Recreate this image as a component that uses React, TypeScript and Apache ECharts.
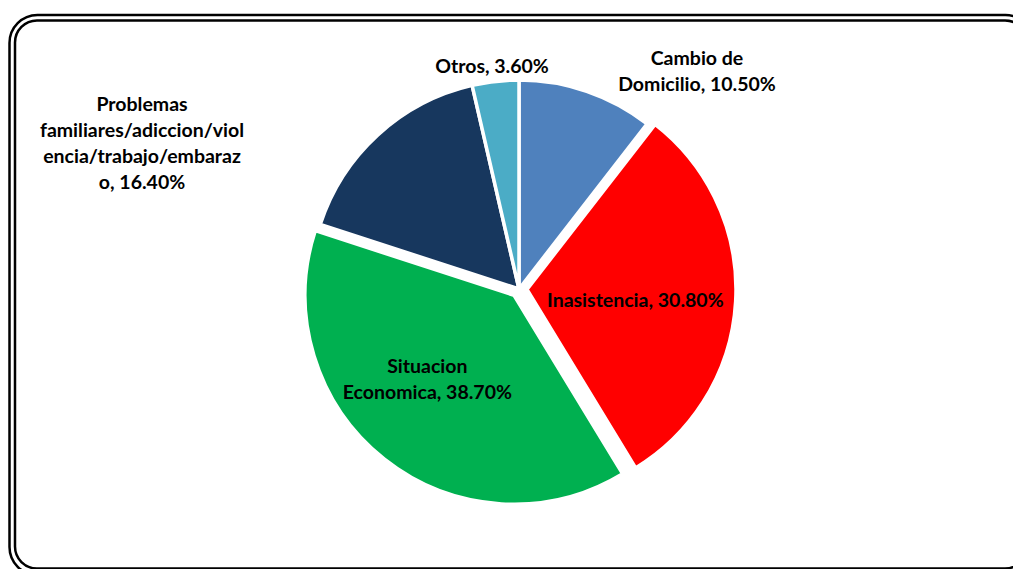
import React, { useEffect, useRef } from "react";
import * as echarts from "echarts";

const categories = [
  "Cambio de Domicilio",
  "Inasistencia",
  "Situacion Economica",
  "Problemas familiares/adiccion/violencia/trabajo/embarazo",
  "Otros",
];
const labelTexts = [
  "Cambio de\nDomicilio, 10.50%",
  "Inasistencia, 30.80%",
  "Situacion\nEconomica, 38.70%",
  "Problemas\nfamiliares/adiccion/viol\nencia/trabajo/embaraz\no, 16.40%",
  "Otros, 3.60%",
];
const values = [10.5, 30.8, 38.7, 16.4, 3.6];
const colors = ["#4F81BD", "#FF0000", "#00B050", "#17375E", "#4BACC6"];
const exploded = [false, true, true, false, false];
const insideLabel = [false, true, true, false, false];
// outside label centres; inside label nudges
const labelPos = [
  [697, 70],
  [1, 4],
  [-20, -1],
  [142, 142],
  [492, 65],
];

export default function App() {
  const ref = useRef<HTMLDivElement>(null);
  useEffect(() => {
    if (!ref.current) return;
    const chart = echarts.init(ref.current, null, { renderer: "svg" });
    chart.setOption({
      animation: false,
      backgroundColor: "#ffffff",
      graphic: [
        {
          type: "rect",
          shape: { x: 9.5, y: 15, width: 1024, height: 560, r: 28 },
          style: { fill: "none", stroke: "#000", lineWidth: 2.5 },
        },
        {
          type: "rect",
          shape: { x: 15, y: 20.5, width: 1012, height: 548, r: 22 },
          style: { fill: "none", stroke: "#000", lineWidth: 2.5 },
        },
      ],
      series: [
        {
          type: "pie",
          center: [519, 289],
          radius: 209,
          startAngle: 90,
          clockwise: true,
          selectedMode: "multiple",
          selectedOffset: 8,
          emphasis: { disabled: true },
          itemStyle: { borderColor: "#ffffff", borderWidth: 3.5 },
          labelLine: { show: false },
          label: {
            show: true,
            position: "outside",
            color: "#000",
            fontFamily: "Lato",
            fontWeight: "bold",
            fontSize: 19.5,
            lineHeight: 26,
            align: "center",
            formatter: (p: any) => labelTexts[p.dataIndex],
          },
          labelLayout: (p: any) => {
            const i = p.dataIndex;
            if (insideLabel[i]) {
              return { dx: labelPos[i][0], dy: labelPos[i][1] };
            }
            return {
              x: labelPos[i][0],
              y: labelPos[i][1],
              align: "center",
              verticalAlign: "middle",
            };
          },
          data: categories.map((name, i) => ({
            name,
            value: values[i],
            selected: exploded[i],
            itemStyle: { color: colors[i] },
            label: insideLabel[i] ? { position: "inside" } : undefined,
          })),
        },
      ],
    });
    return () => chart.dispose();
  }, []);
  return (
    <div
      ref={ref}
      style={{ position: "fixed", left: 0, top: 0, width: 1013, height: 569 }}
    />
  );
}
